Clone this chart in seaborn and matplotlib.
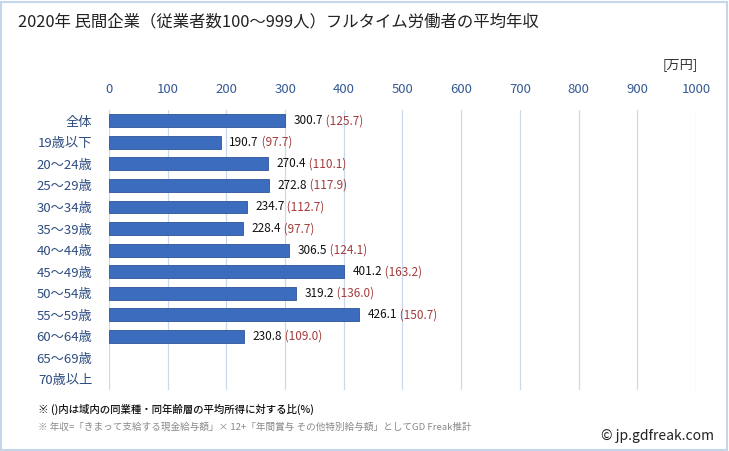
import numpy as np
import pandas as pd
import matplotlib
matplotlib.use('Agg')
import matplotlib.pyplot as plt
from matplotlib.patches import Rectangle
import seaborn as sns

categories = ['全体', '19歳以下', '20～24歳', '25～29歳', '30～34歳', '35～39歳',
              '40～44歳', '45～49歳', '50～54歳', '55～59歳', '60～64歳',
              '65～69歳', '70歳以上']
income = [300.7, 190.7, 270.4, 272.8, 234.7, 228.4, 306.5, 401.2, 319.2, 426.1, 230.8,
          np.nan, np.nan]
ratio = [125.7, 97.7, 110.1, 117.9, 112.7, 97.7, 124.1, 163.2, 136.0, 150.7, 109.0,
         np.nan, np.nan]
x_ticks = [0, 100, 200, 300, 400, 500, 600, 700, 800, 900, 1000]

df = pd.DataFrame({'age': categories, 'income': income, 'ratio': ratio})

sns.set_style('white')
plt.rcParams['font.family'] = ['Noto Sans CJK JP', 'DejaVu Sans']

fig = plt.figure(figsize=(7.29, 4.51), dpi=100)
ax = fig.add_axes([0.1495, 0.135, 0.8052, 0.621])

sns.barplot(data=df, x='income', y='age', orient='h', color='#3b6cbd',
            width=0.6, saturation=1, ax=ax)
for bar in ax.patches:
    bar.set_edgecolor('#2c5599')
    bar.set_linewidth(0.6)

ax.set_xlim(0, 1000)
ax.set_ylim(12.5, -0.5)
ax.set_xticks(x_ticks)
ax.xaxis.tick_top()
ax.tick_params(axis='x', length=0, pad=10, labelsize=9.5, labelcolor='#365a94')
ax.tick_params(axis='y', length=0, pad=12, labelsize=9.5, labelcolor='#2d4c80')
ax.set_xlabel('')
ax.set_ylabel('')
ax.grid(axis='x', color='#c9d8ec', linewidth=0.9)
ax.set_axisbelow(True)
for s in ax.spines.values():
    s.set_visible(False)

# value labels
for i, (v, r) in enumerate(zip(income, ratio)):
    if np.isnan(v):
        continue
    t = ax.annotate(f'{v:.1f}', xy=(v, i), xytext=(6, 0), textcoords='offset points',
                    va='center', ha='left', fontsize=8.5, color='#111111')
    ax.annotate(f' ({r:.1f})', xy=(1, 0.5), xycoords=t, va='center', ha='left',
                fontsize=8.5, color='#a23b3b')

fig.text(0.025, 0.951, '2020年 民間企業（従業者数100～999人）フルタイム労働者の平均年収',
         fontsize=11.8, color='#222222', va='center')
fig.text(0.957, 0.857, '[万円]', fontsize=9.5, color='#333333', ha='right', va='center')
fig.text(0.052, 0.093, '※ ()内は域内の同業種・同年齢層の平均所得に対する比(%)',
         fontsize=7.5, color='#111111', va='center', fontweight='medium')
fig.text(0.052, 0.053, '※ 年収=「きまって支給する現金給与額」× 12+「年間賞与 その他特別給与額」としてGD Freak推計',
         fontsize=6.9, color='#888888', va='center')
fig.text(0.98, 0.033, '© jp.gdfreak.com', fontsize=10, color='#222222',
         ha='right', va='center')

fig.patches.append(Rectangle((0.002, 0.003), 0.995, 0.993, transform=fig.transFigure,
                             fill=False, edgecolor='#c6d6ea', linewidth=1.5))

fig.savefig('out.png', dpi=100)
